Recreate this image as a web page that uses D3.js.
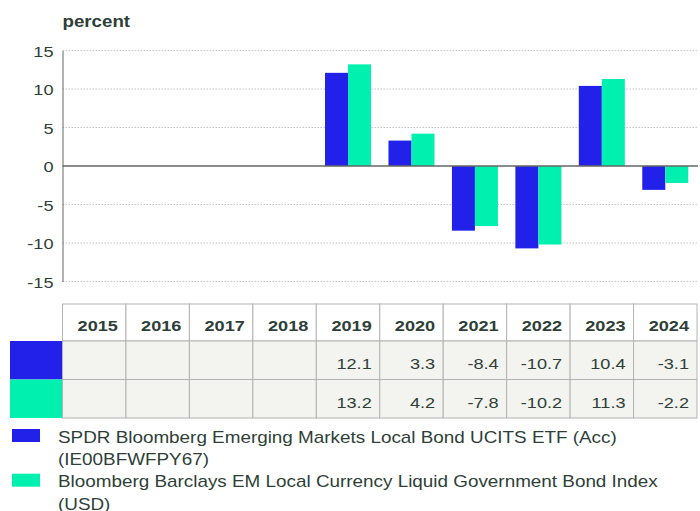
<!DOCTYPE html>
<html>
<head>
<meta charset="utf-8">
<script src="https://cdn.jsdelivr.net/npm/d3@7"></script>
<style>
  body { margin: 0; background: #fff; }
  svg text { font-family: "Liberation Sans", Arial, sans-serif; fill: #2e3f38; }
</style>
</head>
<body>
<div id="chart"></div>
<script>

// Chart data
const years = ['2015', '2016', '2017', '2018', '2019', '2020', '2021', '2022', '2023', '2024'];
const fundValues = [null, null, null, null, 12.1, 3.3, -8.4, -10.7, 10.4, -3.1];
const indexValues = [null, null, null, null, 13.2, 4.2, -7.8, -10.2, 11.3, -2.2];
const seriesKeys = ['fund', 'index'];
const seriesNames = [
  'SPDR Bloomberg Emerging Markets Local Bond UCITS ETF (Acc) (IE00BFWFPY67)',
  'Bloomberg Barclays EM Local Currency Liquid Government Bond Index (USD)'
];
const yTicks = [-15, -10, -5, 0, 5, 10, 15];
const yLabel = 'percent';

class BarTableChart {

  constructor(_config) {
    this.config = {
      parentElement: _config.parentElement,
      containerWidth: _config.containerWidth,
      containerHeight: _config.containerHeight,
      plot: {left: 62.5, right: 697, top: 50.5, bottom: 281.5},
      table: {top: 304, headerHeight: 37, rowHeight: 38.5, swatchLeft: 10},
      legend: {top: 429, entryHeight: 44.7, lineHeight: 22.3, wrapWidth: 530},
      colors: ['#2121ea', '#00f0b0'],
      textStretch: 1.17
    }
    this.series = seriesKeys.map((key, i) => ({
      key: key,
      name: seriesNames[i],
      values: (i === 0 ? fundValues : indexValues)
    }));
    this.initVis();
  }

  initVis() {
    let vis = this;
    let c = vis.config;

    vis.svg = d3.select(vis.config.parentElement).append('svg')
        .attr('width', c.containerWidth)
        .attr('height', c.containerHeight);

    // one column per year, the bars sit inside the same columns as the table
    vis.colScale = d3.scaleBand()
        .domain(years)
        .range([c.plot.left, c.plot.right]);

    vis.xScale = vis.colScale.copy()
        .paddingInner(0.275)
        .paddingOuter(0.1375);

    vis.xSeries = d3.scaleBand()
        .domain(seriesKeys)
        .range([0, vis.xScale.bandwidth()]);

    vis.yScale = d3.scaleLinear()
        .domain([d3.min(yTicks), d3.max(yTicks)])
        .range([c.plot.bottom, c.plot.top]);

    vis.colorScale = d3.scaleOrdinal()
        .domain(seriesKeys)
        .range(c.colors);

    // plain hyphen for negatives, like the reference
    vis.numFormat = v => v.toFixed(1);

    vis.renderVis();
    vis.renderTable();
    vis.renderLegend();
  }

  // helper: the reference text is a little wider than the font, so stretch it
  stretch(x, y, sx) {
    return `translate(${x},${y}) scale(${sx || this.config.textStretch},1)`;
  }

  renderVis() {
    let vis = this;
    let c = vis.config;

    vis.svg.append('text')
        .attr('transform', vis.stretch(c.plot.left, 26.5))
        .style('font-size', '16px')
        .style('font-weight', 'bold')
        .text(yLabel);

    // dotted grid lines
    vis.svg.append('g')
        .selectAll('line')
        .data(yTicks.filter(d => d !== 0))
        .join('line')
        .attr('x1', c.plot.left)
        .attr('x2', c.plot.right + 1)
        .attr('y1', d => vis.yScale(d))
        .attr('y2', d => vis.yScale(d))
        .attr('stroke', '#c4c4c4')
        .attr('stroke-dasharray', '1.5,1.5');

    // bars
    vis.svg.append('g')
        .selectAll('.series')
        .data(vis.series)
        .join('g')
        .attr('class', 'series')
        .attr('fill', d => vis.colorScale(d.key))
        .selectAll('rect')
        .data(d => d.values.map((v, i) => ({key: d.key, year: years[i], value: v})).filter(e => e.value !== null))
        .join('rect')
        .attr('x', d => vis.xScale(d.year) + vis.xSeries(d.key))
        .attr('width', vis.xSeries.bandwidth())
        .attr('y', d => vis.yScale(Math.max(0, d.value)))
        .attr('height', d => Math.abs(vis.yScale(d.value) - vis.yScale(0)));

    // zero line
    vis.svg.append('line')
        .attr('x1', c.plot.left)
        .attr('x2', c.plot.right + 1)
        .attr('y1', vis.yScale(0))
        .attr('y2', vis.yScale(0))
        .attr('stroke', '#666')
        .attr('stroke-width', 1.6);

    // y axis
    vis.yAxis = d3.axisLeft(vis.yScale)
        .tickValues(yTicks)
        .tickFormat(d => String(d))
        .tickSize(0)
        .tickPadding(0);

    vis.yAxisG = vis.svg.append('g')
        .attr('transform', `translate(${c.plot.left},0)`)
        .call(vis.yAxis);

    vis.yAxisG.select('.domain').attr('stroke', '#666');
    vis.yAxisG.selectAll('.tick text')
        .attr('x', null)
        .attr('dy', null)
        .attr('transform', vis.stretch(-9, 5.5))
        .style('font-size', '15.5px')
        .style('font-family', null)
        .attr('fill', null);
  }

  renderTable() {
    let vis = this;
    let c = vis.config;
    let t = c.table;
    let colW = vis.colScale.bandwidth();

    let table = vis.svg.append('g').attr('class', 'table');

    // header row
    table.selectAll('.head-cell')
        .data(years)
        .join('rect')
        .attr('class', 'head-cell')
        .attr('x', d => vis.colScale(d))
        .attr('y', t.top)
        .attr('width', colW)
        .attr('height', t.headerHeight)
        .attr('fill', '#fff')
        .attr('stroke', '#b3b3b3');

    table.selectAll('.head-text')
        .data(years)
        .join('text')
        .attr('class', 'head-text')
        .attr('transform', d => vis.stretch(vis.colScale(d) + colW - 8, t.top + 27))
        .attr('text-anchor', 'end')
        .style('font-size', '15.5px')
        .style('font-weight', 'bold')
        .text(d => d);

    // data rows
    let rows = table.selectAll('.row')
        .data(vis.series)
        .join('g')
        .attr('class', 'row')
        .attr('transform', (d, i) => `translate(0,${t.top + t.headerHeight + i * t.rowHeight})`);

    rows.append('rect')
        .attr('x', t.swatchLeft)
        .attr('y', 0)
        .attr('width', c.plot.left - t.swatchLeft)
        .attr('height', t.rowHeight)
        .attr('fill', d => vis.colorScale(d.key));

    rows.selectAll('.cell')
        .data(d => d.values.map((v, i) => ({year: years[i], value: v})))
        .join('rect')
        .attr('class', 'cell')
        .attr('x', d => vis.colScale(d.year))
        .attr('y', 0)
        .attr('width', colW)
        .attr('height', t.rowHeight)
        .attr('fill', '#f3f3ef')
        .attr('stroke', '#b3b3b3');

    rows.selectAll('.cell-text')
        .data(d => d.values.map((v, i) => ({year: years[i], value: v})).filter(e => e.value !== null))
        .join('text')
        .attr('class', 'cell-text')
        .attr('transform', d => vis.stretch(vis.colScale(d.year) + colW - 8, 28))
        .attr('text-anchor', 'end')
        .style('font-size', '15.5px')
        .text(d => vis.numFormat(d.value));
  }

  renderLegend() {
    let vis = this;
    let l = vis.config.legend;

    let entries = vis.svg.append('g')
        .selectAll('.legend-entry')
        .data(vis.series)
        .join('g')
        .attr('class', 'legend-entry')
        .attr('transform', (d, i) => `translate(0,${l.top + i * l.entryHeight})`);

    entries.append('rect')
        .attr('x', 12)
        .attr('y', 0)
        .attr('width', 28)
        .attr('height', 13)
        .attr('fill', d => vis.colorScale(d.key));

    entries.each(function(d) {
      let g = d3.select(this);
      let words = d.name.split(' ');
      let lines = [];
      let current = [];
      // measure words with a scratch text element to find the line breaks
      let probe = g.append('text').style('font-size', '16px');
      words.forEach(w => {
        let attempt = current.concat([w]).join(' ');
        probe.text(attempt);
        if (probe.node().getComputedTextLength() > l.wrapWidth && current.length > 0) {
          lines.push(current.join(' '));
          current = [w];
        } else {
          current.push(w);
        }
      });
      lines.push(current.join(' '));
      probe.remove();

      g.selectAll('.legend-line')
          .data(lines)
          .join('text')
          .attr('class', 'legend-line')
          .attr('transform', (s, j) => vis.stretch(58, 13.5 + j * l.lineHeight, 1.18))
          .style('font-size', '16px')
          .text(s => s);
    });
  }
}

let chart = new BarTableChart({
  parentElement: '#chart',
  containerWidth: 700,
  containerHeight: 511
});

</script>
</body>
</html>
